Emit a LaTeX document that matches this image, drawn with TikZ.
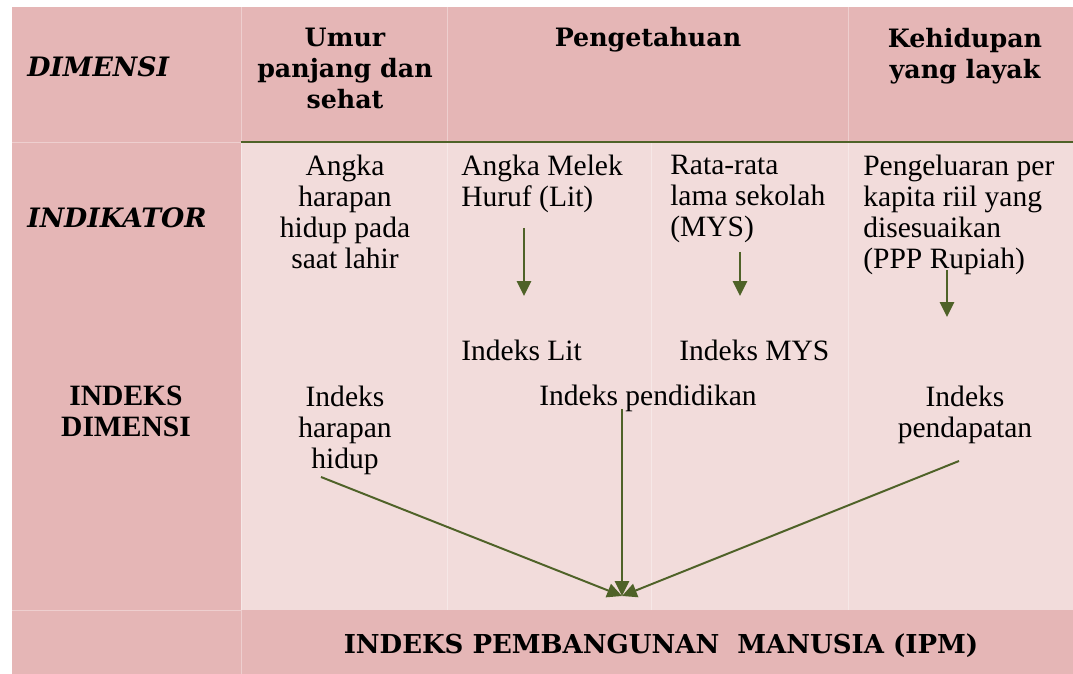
\documentclass[tikz,border=0pt]{standalone}
\usepackage{fontspec}
\setmainfont{Liberation Serif}
\newfontfamily\headfont{DejaVu Serif}
\usetikzlibrary{arrows.meta}
\definecolor{darkpink}{HTML}{E5B6B6}
\definecolor{lightpink}{HTML}{F2DCDB}
\definecolor{olive}{HTML}{4F6228}
\tikzset{
  head/.style={font=\headfont\bfseries\fontsize{18}{22}\selectfont, align=center, inner sep=0},
  rowlabel/.style={font=\headfont\bfseries\itshape\fontsize{19}{22}\selectfont, anchor=base west, inner sep=0},
  sidehead/.style={font=\bfseries\fontsize{21}{21.5}\selectfont, align=center, inner sep=0},
  body/.style={font=\fontsize{21}{22}\selectfont, inner sep=0},
  foot/.style={font=\headfont\bfseries\fontsize{18.5}{22}\selectfont, inner sep=0},
  flow/.style={draw=olive, line width=1.4pt, -{Triangle[length=10.5pt,width=10pt]}},
  cellline/.style={draw=white, opacity=0.35, line width=0.6pt}
}
\begin{document}
\begin{tikzpicture}[x=0.025cm,y=-0.025cm]
  \useasboundingbox (0,0) rectangle (1073,674);
  % background panels
  \fill[darkpink] (12,7) rectangle (241,674);
  \fill[darkpink] (241,7) rectangle (1073,142);
  \fill[lightpink] (241,142) rectangle (1073,610);
  \fill[darkpink] (241,610) rectangle (1073,674);
  \draw[cellline] (241,7) -- (241,674);
  \draw[cellline] (447,7) -- (447,610);
  \draw[cellline] (848,7) -- (848,610);
  \draw[cellline] (651,142) -- (651,610);
  \draw[cellline] (12,142) -- (241,142);
  \draw[cellline] (12,610) -- (241,610);
  \draw[olive, line width=1.5pt] (241,142) -- (1073,142);
  % dimensi
  \node[rowlabel] (dim) at (27,77) {DIMENSI};
  \node[head, anchor=north] (umur) at (345,28) {Umur\\panjang dan\\sehat};
  \node[head, anchor=base] (tahu) at (648,47) {Pengetahuan};
  \node[head, anchor=north] (layak) at (965,28) {Kehidupan\\yang layak};
  % indikator
  \node[rowlabel] (ind) at (27,228) {INDIKATOR};
  \node[body, align=center, anchor=north] (ahh) at (345,155) {Angka\\harapan\\hidup pada\\saat lahir};
  \node[body, align=left, anchor=north west] (lit) at (461,155) {Angka Melek\\Huruf (Lit)};
  \node[body, align=left, anchor=north west] (mys) at (670,155) {Rata-rata\\lama sekolah\\(MYS)};
  \node[body, align=left, anchor=north west] (ppp) at (863,155) {Pengeluaran per\\kapita riil yang\\disesuaikan\\(PPP Rupiah)};
  \node[body, anchor=base west] (ilit) at (461,361) {Indeks Lit};
  \node[body, anchor=base west] (imys) at (679,361) {Indeks MYS};
  % indeks dimensi
  \node[sidehead, anchor=north] (idim) at (126,386) {INDEKS\\DIMENSI};
  \node[body, align=center, anchor=north] (ihh) at (345,386) {Indeks\\harapan\\hidup};
  \node[body, anchor=base] (ipend) at (648,406) {Indeks pendidikan};
  \node[body, align=center, anchor=north] (ipdp) at (965,386) {Indeks\\pendapatan};
  \node[foot, anchor=base] (ipm) at (661,654) {INDEKS PEMBANGUNAN\ \ MANUSIA (IPM)};
  % arrow ends
  \coordinate (lit-a) at (524,228);
  \coordinate (lit-b) at (524,296);
  \coordinate (mys-a) at (740,252);
  \coordinate (mys-b) at (740,296);
  \coordinate (ppp-a) at (947,270);
  \coordinate (ppp-b) at (947,317);
  \coordinate (ihh-a) at (321,477);
  \coordinate (ipend-a) at (622,409);
  \coordinate (ipdp-a) at (959,461);
  \coordinate (ipm-in) at (622,596);
  \draw[flow] (lit-a) -- (lit-b);
  \draw[flow] (mys-a) -- (mys-b);
  \draw[flow] (ppp-a) -- (ppp-b);
  \draw[flow] (ihh-a) -- (ipm-in);
  \draw[flow] (ipend-a) -- (ipm-in);
  \draw[flow] (ipdp-a) -- (ipm-in);
\end{tikzpicture}
\end{document}
